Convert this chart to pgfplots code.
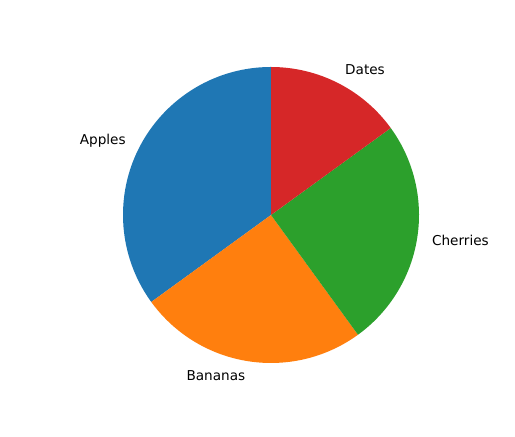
\documentclass[border=0pt]{standalone}
\usepackage{pgfplots}
\usepackage{pgfplotstable}
\pgfplotsset{compat=1.18}
\usepackage{fontspec}
\setmainfont{DejaVu Sans}

\definecolor{c0}{HTML}{1F77B4}
\definecolor{c1}{HTML}{FF7F0E}
\definecolor{c2}{HTML}{2CA02C}
\definecolor{c3}{HTML}{D62728}

% pie shares (percent), drawn counterclockwise from 90 degrees
\pgfplotstableread{
label    value col
Apples   35    c0
Bananas  25    c1
Cherries 25    c2
Dates    15    c3
}\fruits

\tikzset{pielabel/.style={inner sep=0pt, font=\fontsize{9.8}{12}\selectfont}}

\newcommand\angA{90}
\newcommand\slice[1]{%
  \pgfplotstablegetelem{#1}{value}\of\fruits \let\val\pgfplotsretval
  \pgfplotstablegetelem{#1}{label}\of\fruits \let\lab\pgfplotsretval
  \pgfplotstablegetelem{#1}{col}\of\fruits \let\col\pgfplotsretval
  \pgfmathsetmacro\angB{\angA+3.6*\val}%
  \pgfmathsetmacro\midang{(\angA+\angB)/2}%
  \pgfmathsetmacro\lx{1.1*cos(\midang)}%
  \pgfmathsetmacro\ly{1.1*sin(\midang)}%
  \pgfmathsetmacro\px{cos(\angA)}%
  \pgfmathsetmacro\py{sin(\angA)}%
  \pgfmathparse{\lx<0 ? "east" : "west"}\let\anc\pgfmathresult
  \edef\temp{%
    \noexpand\fill[\col] (axis cs:0,0) -- (axis cs:\px,\py)
      arc[start angle=\angA, end angle=\angB, radius=1] -- cycle;
    \noexpand\node[pielabel, anchor=\anc] at (axis cs:\lx,\ly) {\lab};
  }%
  \temp
  \global\let\angA\angB
}

\begin{document}
\begin{tikzpicture}
\path[use as bounding box] (0,0) rectangle (370.8pt,314.64pt);
\begin{axis}[
  at={(195.12pt,159.84pt)}, anchor=center,
  scale only axis, width=213.12pt, height=213.12pt,
  xmin=-1, xmax=1, ymin=-1, ymax=1,
  hide axis, clip=false,
]
\slice{0}
\slice{1}
\slice{2}
\slice{3}
\end{axis}
\end{tikzpicture}
\end{document}
